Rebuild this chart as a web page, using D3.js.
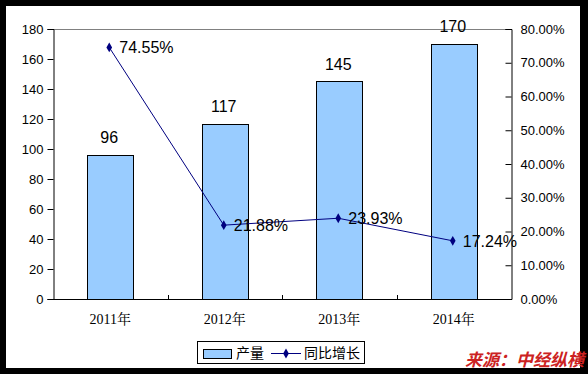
<!DOCTYPE html>
<html>
<head>
<meta charset="utf-8">
<script src="https://cdn.jsdelivr.net/npm/d3@7"></script>
<style>
  body { margin: 0; background: #000; }
  svg { display: block; }
</style>
</head>
<body>
<div id="chart"></div>
<script>
"use strict";

var years = ["2011年", "2012年", "2013年", "2014年"];
var output = [96, 117, 145, 170];
var growth = [0.7455, 0.2188, 0.2393, 0.1724];
var leftTicks = [0, 20, 40, 60, 80, 100, 120, 140, 160, 180];
var rightTicks = [0, 0.1, 0.2, 0.3, 0.4, 0.5, 0.6, 0.7, 0.8];

(function() {
var width = 588, height = 374;
var plotLeft = 53, plotRight = 511, plotTop = 29, plotBottom = 299;
var sans = "'Liberation Sans', Arial, sans-serif";
var serif = "'Liberation Serif', 'Noto Serif CJK SC', 'Noto Sans CJK SC', serif";
var cjk = "'Noto Sans CJK SC', sans-serif";

var svg = d3.select("#chart").append("svg")
  .attr("width", width)
  .attr("height", height);

// black frame with white chart area
svg.append("rect").attr("width", width).attr("height", height).attr("fill", "#000");
svg.append("rect").attr("x", 6).attr("y", 6).attr("width", 574).attr("height", 362).attr("fill", "#fff");

var x = d3.scaleBand().domain(years).range([plotLeft, plotRight]);
var yL = d3.scaleLinear().domain([0, 180]).range([plotBottom, plotTop]);
var yR = d3.scaleLinear().domain([0, 0.8]).range([plotBottom, plotTop]);

// top border of plot area (gray)
svg.append("line")
  .attr("x1", plotLeft).attr("x2", plotRight)
  .attr("y1", plotTop + 0.5).attr("y2", plotTop + 0.5)
  .attr("stroke", "#808080");

// bars
var barW = 46;
svg.selectAll(".bar")
  .data(output)
  .enter()
  .append("rect")
  .attr("class", "bar")
  .attr("x", function(d, i) { return Math.round(x(years[i]) + x.bandwidth() / 2 - barW / 2) + 0.5; })
  .attr("y", function(d) { return Math.round(yL(d)) + 0.5; })
  .attr("width", barW)
  .attr("height", function(d) { return plotBottom - Math.round(yL(d)); })
  .attr("fill", "#99ccff")
  .attr("stroke", "#000");

svg.selectAll(".barlabel")
  .data(output)
  .enter()
  .append("text")
  .attr("x", function(d, i) { return x(years[i]) + x.bandwidth() / 2 - 1; })
  .attr("y", function(d) { return yL(d) - 12; })
  .attr("text-anchor", "middle")
  .style("font-family", sans)
  .style("font-size", "16px")
  .text(function(d) { return d; });

// left axis
var axL = svg.append("g")
  .attr("transform", "translate(" + (plotLeft + 0.5) + ",0)")
  .call(d3.axisLeft(yL).tickValues(leftTicks).tickSize(6).tickPadding(4));
axL.selectAll("text").style("font-family", sans).style("font-size", "13px").attr("fill", "#000");

// right axis (ticks pointing inward)
var axR = svg.append("g")
  .attr("transform", "translate(" + (plotRight + 0.5) + ",0)")
  .call(d3.axisRight(yR).tickValues(rightTicks).tickSize(-6).tickPadding(9)
    .tickFormat(function(d) { return (d * 100).toFixed(2) + "%"; }));
axR.selectAll("text").style("font-family", sans).style("font-size", "13px").attr("fill", "#000")
  .attr("x", 9);

svg.selectAll(".domain").attr("stroke", "#000");

// bottom axis with ticks between categories
svg.append("line")
  .attr("x1", plotLeft).attr("x2", plotRight)
  .attr("y1", plotBottom + 0.5).attr("y2", plotBottom + 0.5)
  .attr("stroke", "#000");
svg.selectAll(".xtick")
  .data(years.slice(1))
  .enter()
  .append("line")
  .attr("x1", function(d) { return Math.round(x(d)) + 0.5; })
  .attr("x2", function(d) { return Math.round(x(d)) + 0.5; })
  .attr("y1", plotBottom - 4)
  .attr("y2", plotBottom)
  .attr("stroke", "#000");
svg.selectAll(".xlabel")
  .data(years)
  .enter()
  .append("text")
  .attr("x", function(d) { return x(d) + x.bandwidth() / 2; })
  .attr("y", plotBottom + 25)
  .attr("text-anchor", "middle")
  .style("font-family", serif)
  .style("font-size", "14px")
  .text(function(d) { return d; });

// growth line
var cx = function(d, i) { return x(years[i]) + x.bandwidth() / 2 - 1; };
var line = d3.line()
  .x(function(d, i) { return cx(d, i); })
  .y(function(d) { return yR(d); });
svg.append("path")
  .datum(growth)
  .attr("d", line)
  .attr("fill", "none")
  .attr("stroke", "#000080")
  .attr("stroke-width", 1);

var diamond = d3.symbol().type(d3.symbolDiamond).size(28);
svg.selectAll(".marker")
  .data(growth)
  .enter()
  .append("path")
  .attr("d", diamond)
  .attr("transform", function(d, i) { return "translate(" + cx(d, i) + "," + yR(d) + ")"; })
  .attr("fill", "#000080");

svg.selectAll(".linelabel")
  .data(growth)
  .enter()
  .append("text")
  .attr("x", function(d, i) { return cx(d, i) + 10; })
  .attr("y", function(d) { return yR(d) + 6; })
  .style("font-family", sans)
  .style("font-size", "16px")
  .text(function(d) { return (d * 100).toFixed(2) + "%"; });

// legend
var lg = svg.append("g").attr("transform", "translate(197,341)");
lg.append("rect").attr("x", 0.5).attr("y", 0.5).attr("width", 167).attr("height", 22)
  .attr("fill", "#fff").attr("stroke", "#000");
lg.append("rect").attr("x", 6.5).attr("y", 8.5).attr("width", 28).attr("height", 9)
  .attr("fill", "#99ccff").attr("stroke", "#000");
lg.append("text").attr("x", 39).attr("y", 17)
  .style("font-family", cjk).style("font-size", "14px").text("产量");
lg.append("line").attr("x1", 74).attr("x2", 104).attr("y1", 12.5).attr("y2", 12.5)
  .attr("stroke", "#000080");
lg.append("path").attr("d", diamond)
  .attr("transform", "translate(89,12.5)").attr("fill", "#000080");
lg.append("text").attr("x", 107).attr("y", 17)
  .style("font-family", cjk).style("font-size", "14px").text("同比增长");

// source note
svg.append("text")
  .attr("x", 465).attr("y", 366)
  .style("font-family", cjk)
  .style("font-size", "17px")
  .style("font-weight", "bold")
  .style("font-style", "italic")
  .attr("fill", "#cc2222")
  .text("来源：中经纵横");

// frame drawn again on top so the note is clipped by it
svg.append("rect").attr("x", 0).attr("y", 368).attr("width", width).attr("height", 6).attr("fill", "#000");
})();
</script>
</body>
</html>
